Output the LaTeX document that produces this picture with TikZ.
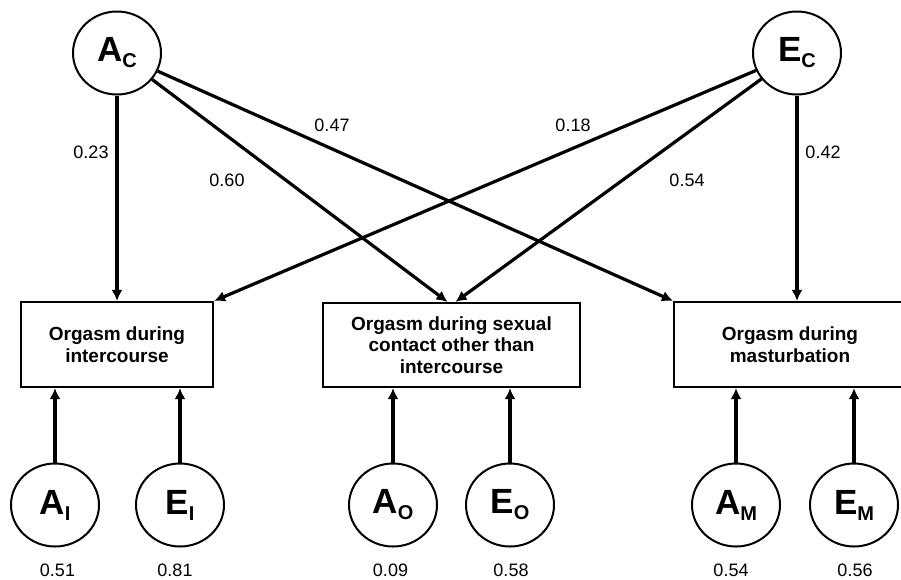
\documentclass[tikz,border=0pt]{standalone}
\usepackage{fontspec}
\setmainfont{Liberation Sans}
\usetikzlibrary{arrows.meta,shapes.geometric}
\newcommand{\latvar}[2]{\fontsize{35}{35}\selectfont\bfseries #1\raisebox{-6pt}{\fontsize{20}{20}\selectfont #2}}

\begin{document}
\begin{tikzpicture}[x=1pt,y=-1pt,
		latent/.style={draw,line width=2pt,ellipse,minimum width=88pt,minimum height=83pt,inner sep=0pt},
		trait/.style={draw,line width=2.2pt,inner sep=0pt,align=center,font=\fontsize{19}{21.7}\selectfont\bfseries},
		path/.style={line width=3.2pt,-{Latex[length=11pt,width=11pt]}},
		coef/.style={font=\fontsize{18}{18}\selectfont}]
		\useasboundingbox (0,0) rectangle (901,579);
		
		\node[latent] (AC) at (117,53) {\latvar{A}{C}};
		\node[latent] (EC) at (797,53) {\latvar{E}{C}};
		
		\node[trait,minimum width=192pt,minimum height=85pt] (i1) at (117,344.5) {Orgasm during\\intercourse};
		\node[trait,minimum width=257pt,minimum height=84pt] (i2) at (451.5,345) {Orgasm during sexual\\contact other than\\intercourse};
		\node[trait,minimum width=232pt,minimum height=85pt] (i3) at (790,344.5) {Orgasm during\\masturbation};
		
		\node[latent] (AI) at (55,505) {\latvar{A}{I}};
		\node[latent] (EI) at (180,505) {\latvar{E}{I}};
		\node[latent] (AO) at (393,505) {\latvar{A}{O}};
		\node[latent] (EO) at (510,505) {\latvar{E}{O}};
		\node[latent] (AM) at (736,505) {\latvar{A}{M}};
		\node[latent] (EM) at (854,505) {\latvar{E}{M}};
		
		% common paths
		\draw[path] (AC) -- (AC |- i1.north);
		\draw[path] (AC) -- ([xshift=-4pt]i2.north);
		\draw[path] (AC) -- (i3.north west);
		\draw[path] (EC) -- (i1.north east);
		\draw[path] (EC) -- ([xshift=4pt]i2.north);
		\draw[path] (EC) -- (EC |- i3.north);
		
		\node[coef] (c1) at (91,152) {0.23};
		\node[coef] (c2) at (227,180) {0.60};
		\node[coef] (c3) at (332,125) {0.47};
		\node[coef] (c4) at (573,125) {0.18};
		\node[coef] (c5) at (687,180) {0.54};
		\node[coef] (c6) at (823,152) {0.42};
		
		% specific paths
		\draw[path] (AI) -- (AI |- i1.south);
		\draw[path] (EI) -- (EI |- i1.south);
		\draw[path] (AO) -- (AO |- i2.south);
		\draw[path] (EO) -- (EO |- i2.south);
		\draw[path] (AM) -- (AM |- i3.south);
		\draw[path] (EM) -- (EM |- i3.south);
		
		\node[coef] (s1) at (57.5,570) {0.51};
		\node[coef] (s2) at (175,570) {0.81};
		\node[coef] (s3) at (390.5,570) {0.09};
		\node[coef] (s4) at (511,570) {0.58};
		\node[coef] (s5) at (731,570) {0.54};
		\node[coef] (s6) at (855,570) {0.56};
		\end{tikzpicture}
\end{document}
